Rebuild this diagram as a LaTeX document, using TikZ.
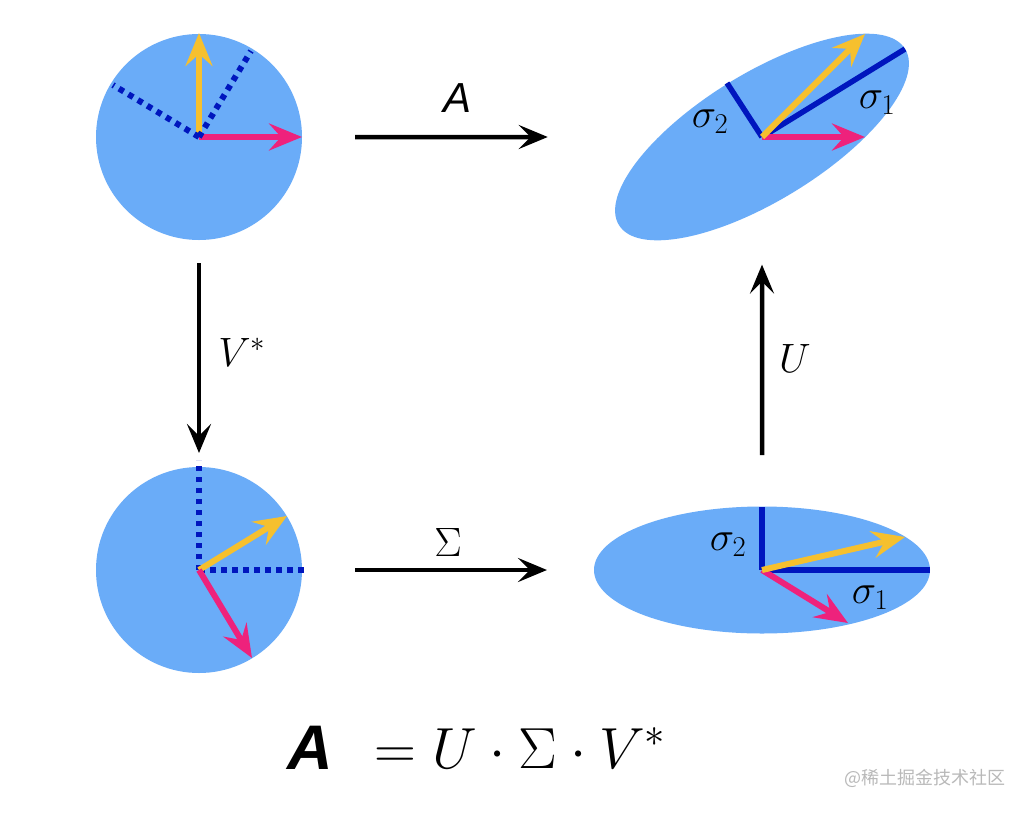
\RequirePackage{fix-cm}
\documentclass[tikz,border=0pt]{standalone}
\usepackage{amsmath,amssymb}
\usepackage{xcolor}
\usepackage{fontspec}
\newfontfamily\labelsans{Liberation Sans}
\newfontfamily\cjk{Noto Sans CJK SC}
\usepackage{tikz}
\usetikzlibrary{arrows.meta,positioning,shapes.geometric}

\definecolor{discblue}{RGB}{106,172,248}
\definecolor{axisblue}{RGB}{0,22,190}
\definecolor{vecyellow}{RGB}{246,192,46}
\definecolor{vecpink}{RGB}{238,34,124}

\begin{document}
\begin{tikzpicture}[
  x=1pt, y=-1pt,
  disc/.style={circle, fill=discblue, minimum size=206pt, inner sep=0pt, outer sep=0pt},
  oval/.style={ellipse, fill=discblue, minimum width=336pt, minimum height=127pt, inner sep=0pt, outer sep=0pt},
  arr/.style={-{Stealth[length=29pt, width=24pt, inset=12pt]}, line width=4.5pt},
  vec/.style={-{Stealth[length=33pt, width=27pt, inset=12pt]}, line width=6pt},
  axis/.style={line width=5.5pt, axisblue},
  dots/.style={line width=6pt, axisblue, dash pattern=on 5.5pt off 5.5pt},
  lbl/.style={font=\fontsize{41}{48}\selectfont, inner sep=0pt}
]
\useasboundingbox[fill=white] (0,0) rectangle (1026,812);

% the four shapes
\node[disc] (tl) at (199,137) {};
\node[oval, rotate=31.6] (tr) at (762,137) {};
\node[disc] (bl) at (199,570) {};
\node[oval] (br) at (762,570) {};

% input circle
\draw[vec, vecyellow] (tl.center) -- ++(0,-104);
\draw[vec, vecpink] (tl.center) -- ++(103,0);
\draw[dots] (tl.center) -- ++(52,-86);
\draw[dots] (tl.center) -- ++(-86,-52);

% after V*
\draw[dots] (bl.center) -- ++(0,-110);
\draw[dots] (bl.center) -- ++(109,0);
\draw[vec, vecyellow] (bl.center) -- ++(88,-54);
\draw[vec, vecpink] (bl.center) -- ++(53,88);

% after Sigma
\draw[axis] (br.center) -- ++(168,0);
\draw[axis] (br.center) -- ++(0,-63.5);
\draw[vec, vecpink] (br.center) -- ++(86,53);
\draw[vec, vecyellow] (br.center) -- ++(143,-33);
\node[lbl] (s2bot) at (728,545) {$\sigma_2$};
\node[lbl] (s1bot) at (870,598) {$\sigma_1$};

% after U
\draw[axis] (tr.center) -- ++(143,-88);
\draw[axis] (tr.center) -- ++(-35,-54);
\draw[vec, vecpink] (tr.center) -- ++(103,0);
\draw[vec, vecyellow] (tr.center) -- ++(103,-103);
\node[lbl] (s1top) at (877,103) {$\sigma_1$};
\node[lbl] (s2top) at (710,122) {$\sigma_2$};

% maps
\draw[arr, shorten <=53pt, shorten >=111pt] (tl) -- (tr);
\draw[arr, shorten <=23pt, shorten >=14pt] (tl) -- (bl);
\draw[arr, shorten <=53pt, shorten >=47pt] (bl) -- (br);
\draw[arr, shorten <=51.5pt, shorten >=55pt] (br) -- (tr);
\node[lbl, font=\labelsans\itshape\fontsize{42}{48}\selectfont] (Alab) at (458,98) {A};
\node[lbl] (Vlab) at (242,352) {$V^*$};
\node[lbl] (Slab) at (448,542) {$\Sigma$};
\node[lbl] (Ulab) at (795,358) {$U$};

% the factorisation
\node[inner sep=0pt, anchor=base, font=\labelsans\bfseries\itshape\fontsize{63}{70}\selectfont] (Abig) at (310,769) {A};
\node[inner sep=0pt, anchor=base west, font=\fontsize{58}{66}\selectfont] (eqn) at (374,768) {$=U\cdot\Sigma\cdot V^*$};

\node[font=\cjk\fontsize{18}{20}\selectfont, text=gray!55] (mark) at (925,778) {@稀土掘金技术社区};
\end{tikzpicture}
\end{document}
